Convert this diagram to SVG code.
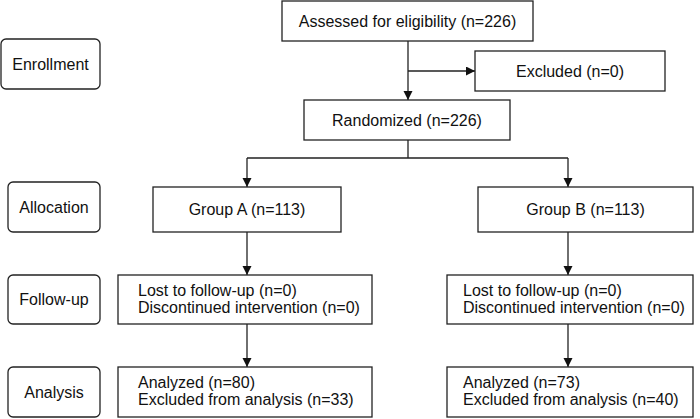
<svg xmlns="http://www.w3.org/2000/svg" width="700" height="419" viewBox="0 0 700 419">
<defs>
<style>
.b{fill:#fff;stroke:#222;stroke-width:1.3}
.t{font-family:"Liberation Sans",Arial,sans-serif;font-size:16px;fill:#111}
.c{text-anchor:middle}
.l{stroke:#222;stroke-width:1.3;fill:none}
</style>
<marker id="ah" markerWidth="10" markerHeight="10" refX="9" refY="4.5" orient="auto" markerUnits="userSpaceOnUse">
<path d="M0,0 L9,4.5 L0,9 Z" fill="#111"/>
</marker>
</defs>
<rect width="700" height="419" fill="#fff"/>
<g id="connectors">
<path class="l" d="M408,41 V100" marker-end="url(#ah)"/>
<path class="l" d="M408,71 H475" marker-end="url(#ah)"/>
<path class="l" d="M408,140 V158 M247,158 H568"/>
<path class="l" d="M247,158 V187" marker-end="url(#ah)"/>
<path class="l" d="M568,158 V187" marker-end="url(#ah)"/>
<path class="l" d="M247,232 V275" marker-end="url(#ah)"/>
<path class="l" d="M568,232 V275" marker-end="url(#ah)"/>
<path class="l" d="M247,324 V367" marker-end="url(#ah)"/>
<path class="l" d="M568,324 V367" marker-end="url(#ah)"/>
</g>
<g id="enrollment"><rect class="b" x="1" y="39" width="99" height="50" rx="5"/><text class="t c" x="50.5" y="70">Enrollment</text></g>
<g id="allocation"><rect class="b" x="8" y="182" width="92" height="50" rx="5"/><text class="t c" x="54" y="213">Allocation</text></g>
<g id="followup"><rect class="b" x="8" y="275" width="92" height="49" rx="5"/><text class="t c" x="54" y="305">Follow-up</text></g>
<g id="analysis"><rect class="b" x="8" y="367" width="92" height="50" rx="5"/><text class="t c" x="54" y="398">Analysis</text></g>
<g id="assessed"><rect class="b" x="282" y="1" width="251" height="40"/><text class="t c" x="407.5" y="27">Assessed for eligibility (n=226)</text></g>
<g id="excluded"><rect class="b" x="475" y="51" width="190" height="40"/><text class="t c" x="570" y="77">Excluded (n=0)</text></g>
<g id="randomized"><rect class="b" x="304" y="100" width="206" height="40"/><text class="t c" x="407" y="126">Randomized (n=226)</text></g>
<g id="groupA"><rect class="b" x="153" y="187" width="188" height="45"/><text class="t c" x="247" y="215">Group A (n=113)</text></g>
<g id="groupB"><rect class="b" x="478" y="187" width="215" height="45"/><text class="t c" x="585.5" y="215">Group B (n=113)</text></g>
<g id="followupA"><rect class="b" x="118" y="275" width="254" height="49"/><text class="t" x="138" y="296">Lost to follow-up (n=0)</text><text class="t" x="138" y="313">Discontinued intervention (n=0)</text></g>
<g id="followupB"><rect class="b" x="447" y="275" width="246" height="49"/><text class="t" x="463" y="296">Lost to follow-up (n=0)</text><text class="t" x="463" y="313">Discontinued intervention (n=0)</text></g>
<g id="analysisA"><rect class="b" x="118" y="367" width="254" height="50"/><text class="t" x="138" y="388">Analyzed (n=80)</text><text class="t" x="138" y="405">Excluded from analysis (n=33)</text></g>
<g id="analysisB"><rect class="b" x="447" y="367" width="246" height="50"/><text class="t" x="463" y="388">Analyzed (n=73)</text><text class="t" x="463" y="405">Excluded from analysis (n=40)</text></g>
</svg>
